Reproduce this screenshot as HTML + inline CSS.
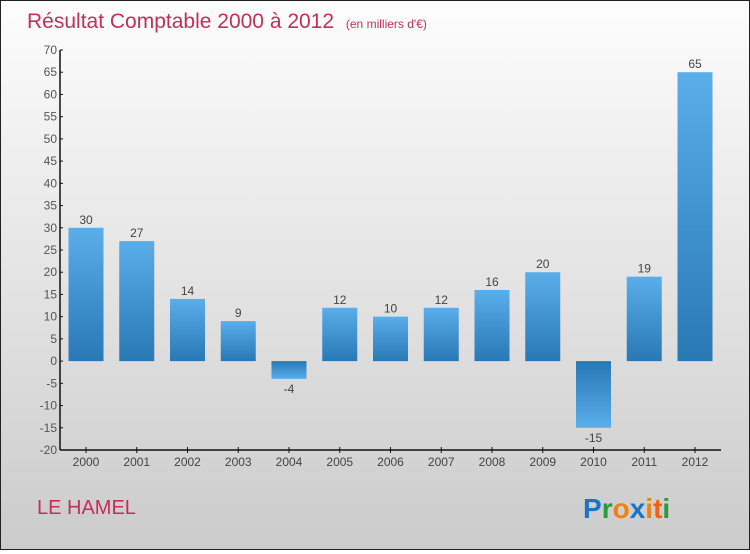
<!DOCTYPE html>
<html><head><meta charset="utf-8"><style>
html,body{margin:0;padding:0}
body{width:750px;height:550px;overflow:hidden;font-family:"Liberation Sans",sans-serif}
#wrap{position:relative;width:748px;height:548px;border:1px solid #222;background:linear-gradient(#fdfdfd,#cbcbcb)}
</style></head><body>
<div id="wrap">
<svg id="chart" width="748" height="548">
<defs>
<linearGradient id="gp" x1="0" y1="0" x2="0" y2="1"><stop offset="0" stop-color="#5aaeea"/><stop offset="1" stop-color="#2878b4"/></linearGradient>
<linearGradient id="gn" x1="0" y1="0" x2="0" y2="1"><stop offset="0" stop-color="#2878b4"/><stop offset="1" stop-color="#5aaeea"/></linearGradient>
</defs>
<text x="26" y="27" font-size="21" fill="#c0305a">Résultat Comptable 2000 à 2012 <tspan font-size="12" dx="6">(en milliers d'€)</tspan></text>
<text x="36" y="513" font-size="20" fill="#c0305a">LE HAMEL</text>
<text x="582" y="517" font-size="28" font-weight="bold"><tspan fill="#1a75c8">P</tspan><tspan fill="#2a9a3a">r</tspan><tspan fill="#f08010">o</tspan><tspan fill="#1a75c8">x</tspan><tspan fill="#f08010">i</tspan><tspan fill="#f06010">t</tspan><tspan fill="#2a9a3a">i</tspan></text>
<g id="axes"></g><g id="bars"></g>
</svg>
</div>
<script>
const categories=["2000","2001","2002","2003","2004","2005","2006","2007","2008","2009","2010","2011","2012"];
const values=[30,27,14,9,-4,12,10,12,16,20,-15,19,65];
const yTicks=[70,65,60,55,50,45,40,35,30,25,20,15,10,5,0,-5,-10,-15,-20];
const yMin=-20,yMax=70,yTop=49,yBot=449,xLeft=59,xRight=720;
const NS="http://www.w3.org/2000/svg";
function yS(v){return yBot-(v-yMin)/(yMax-yMin)*(yBot-yTop);}
function xc(i){return 85+i*50.75;}
function mk(t,a,p){const e=document.createElementNS(NS,t);for(const k in a)e.setAttribute(k,a[k]);p.appendChild(e);return e;}
const ax=document.getElementById('axes'),bg=document.getElementById('bars');
let ln=mk('line',{x1:xLeft,y1:yTop,x2:xLeft,y2:yBot,stroke:'#111','stroke-width':1.5},ax);


ln=mk('line',{x1:xLeft,y1:yBot,x2:xRight,y2:yBot,stroke:'#111','stroke-width':1.5},ax);


yTicks.forEach(v=>{
 mk('line',{x1:xLeft,y1:yS(v),x2:xLeft+3,y2:yS(v),stroke:'#111'},ax);
 const t=mk('text',{x:xLeft-3,y:yS(v)+4,'font-size':12,fill:'#555','text-anchor':'end'},ax);
 t.textContent=v;
 
 
});
categories.forEach((c,i)=>{
 mk('line',{x1:xc(i),y1:yBot-3,x2:xc(i),y2:yBot+3,stroke:'#111'},ax);
 const t=mk('text',{x:xc(i),y:yBot+16,'font-size':12,fill:'#444','text-anchor':'middle'},ax);
 t.textContent=c;
 
 
 const v=values[i],y0=yS(0),yv=yS(v);
 const r=mk('rect',{x:xc(i)-17.5,y:Math.min(y0,yv),width:35,height:Math.abs(yv-y0),fill:v>=0?'url(#gp)':'url(#gn)'},bg);
 
 
 const lb=mk('text',{x:xc(i),y:v>=0?yv-4:yv+14,'font-size':12,fill:'#444','text-anchor':'middle'},bg);
 lb.textContent=v;
 
 
});
</script>
</body></html>
